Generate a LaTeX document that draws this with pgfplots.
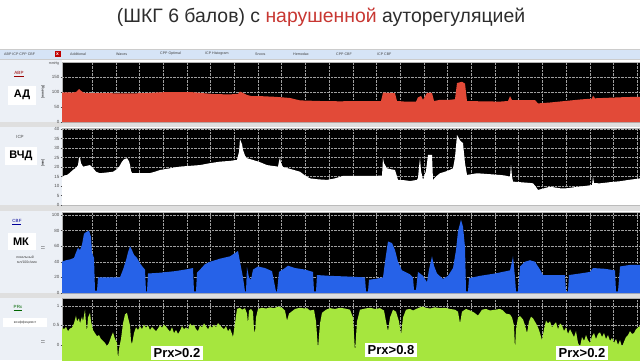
\documentclass[border=0pt]{standalone}
\usepackage{pgfplots}
\pgfplotsset{compat=1.18}
\usepackage{fontspec}
\setmainfont{Liberation Sans}
\definecolor{abpred}{RGB}{226,74,56}
\definecolor{cbfblue}{RGB}{38,98,232}
\definecolor{prxgreen}{RGB}{166,230,62}
\definecolor{tabblue}{RGB}{214,228,246}
\definecolor{panelbg}{RGB}{236,240,246}
\definecolor{titlered}{RGB}{200,55,50}
\definecolor{titlegray}{RGB}{45,45,45}
\pgfplotsset{panel/.style={scale only axis, width=578pt, anchor=south west,
  xmin=62, xmax=640,
  axis background/.style={fill=black},
  xtick={92,115.7,139.4,163.1,186.8,210.5,234.2,257.9,281.6,305.3,329,352.7,376.4,400.1,423.8,447.5,471.2,494.9,518.6,542.3,566,589.7,613.4,637.1},
  xticklabels={}, xtick style={draw=none},
  grid=major, grid style={densely dotted, gray!75, line width=0.35pt},
  axis line style={gray!60, line width=0.4pt},
  ytick style={gray!60!black, line width=0.3pt}, major tick length=1.5pt, tick align=outside,
  yticklabel style={font=\fontsize{4.5}{5}\selectfont, text=gray!60!black, inner sep=1pt},
  /pgf/number format/assume math mode=true}}
\begin{document}
\begin{tikzpicture}[x=1pt,y=1pt]
\path[use as bounding box] (0,0) rectangle (640,360);
\clip (0,0) rectangle (640,360);
\fill[white] (0,0) rectangle (640,360);
% title
\node[font=\fontsize{19.4}{23}\selectfont, text=titlegray] at (321,343) {(ШКГ 6 балов) с \textcolor{titlered}{нарушенной} ауторегуляцией};
% left panel and tab bar
\fill[panelbg] (0,0) rectangle (62,301);
\fill[tabblue] (0,301) rectangle (640,311);
\draw[gray!40, line width=0.4pt] (0,301) -- (640,301);
\draw[gray!40, line width=0.4pt] (0,311) -- (640,311);
\fill[red!75!black] (54.5,303) rectangle (60.5,309);
\node[text=white, font=\fontsize{5}{5}\selectfont\bfseries, inner sep=0pt] at (57.5,306) {x};
\begin{scope}[font=\fontsize{3.6}{4}\selectfont, text=gray!50!black, inner sep=0pt, anchor=west]
\node[anchor=west] at (4,306) {ABP ICP CPP CBF};
\node[anchor=west] at (70,306) {Additional};
\node[anchor=west] at (116,306) {Waves};
\node[anchor=west] at (160,306) {CPP Optimal};
\node[anchor=west] at (205,306) {ICP Histogram};
\node[anchor=west] at (255,306) {Snoos};
\node[anchor=west] at (293,306) {Hemodax};
\node[anchor=west] at (336,306) {CPP CBF};
\node[anchor=west] at (377,306) {ICP CBF};
\end{scope}
% separators
\fill[gray!25] (0,233) rectangle (640,238);
\fill[gray!25] (0,155) rectangle (640,149);
\fill[gray!25] (0,62) rectangle (640,67);
% left labels
\fill[white] (8,255) rectangle (36,274);
\fill[white] (5,195) rectangle (37,213);
\fill[white] (8,110) rectangle (36,127);
\fill[white] (3,33) rectangle (47,42);
\begin{scope}[font=\fontsize{4.5}{5}\selectfont, inner sep=0pt]
\node[text=red!60!black] at (19,286) {\underline{ABP}};
\node[text=gray!60!black] at (20,223) {ICP};
\node[text=blue!60!black] at (17,138) {\underline{CBF}};
\node[text=green!40!black] at (18,52) {\underline{PRx}};
\node[font=\fontsize{3.5}{4}\selectfont, text=gray!50!black] at (25,103) {локальный};
\node[font=\fontsize{3.5}{4}\selectfont, text=gray!50!black] at (27,98) {мл/100г/мин};
\node[font=\fontsize{3.5}{4}\selectfont, text=gray!50!black] at (25,37.5) {коэффициент};
\node[rotate=90, font=\fontsize{3.5}{4}\selectfont] at (43,268) {[mmHg]};
\node[rotate=90, font=\fontsize{3.5}{4}\selectfont] at (43,197) {[mm]};
\node[rotate=90, font=\fontsize{3.5}{4}\selectfont] at (43,112) {[ ]};
\node[rotate=90, font=\fontsize{3.5}{4}\selectfont] at (43,18) {[ ]};
\node[font=\fontsize{3.5}{4}\selectfont, text=gray!50!black] at (54,296) {mmHg};
\end{scope}
\node[font=\bfseries\fontsize{11}{12}\selectfont] at (22,265) {АД};
\node[font=\bfseries\fontsize{11}{12}\selectfont] at (21,204) {ВЧД};
\node[font=\bfseries\fontsize{11}{12}\selectfont] at (21,118) {МК};
% ABP
\begin{axis}[panel, at={(62pt,238pt)}, height=60pt, ymin=0, ymax=200, ytick={0,50,100,150}]
\addplot[fill=abpred, draw=none] coordinates {(62,0) (62,98) (66,99) (72,98) (76,100) (79,110) (81,104) (84,97) (95,96) (110,96) (125,95) (140,96) (150,97) (160,99) (175,100) (190,100) (200,97) (215,93) (230,92) (238,94) (240,101) (243,97) (247,90) (252,86) (262,86) (275,84) (283,82) (290,80) (300,72) (320,70) (340,69) (360,70) (370,70) (381,70) (383,98) (390,97) (395,96) (397,70) (405,68) (416,68) (418,82) (421,87) (423,74) (427,97) (432,97) (434,70) (440,74) (450,74) (455,76) (457,130) (462,134) (465,128) (467,70) (480,69) (500,68) (508,70) (510,86) (512,73) (525,73) (535,73) (538,62) (550,65) (565,70) (580,75) (592,78) (593,88) (595,79) (610,81) (625,83) (640,84) (640,0)};
\end{axis}
% ICP
\begin{axis}[panel, at={(62pt,155pt)}, height=77pt, ymin=0, ymax=40.5, ytick={0,5,...,40}]
\addplot[fill=white, draw=none] coordinates {(62,0) (62,14.4) (64,15.5) (67,15.8) (70,17) (73,18.5) (76,19.5) (78,21) (79,24.6) (80,25) (81,22) (83,20.2) (86,20.5) (90,21) (93,19.5) (96,17.5) (100,16.7) (105,17) (110,17.3) (113,17.5) (116,18.5) (119,20) (122,22.8) (124,24) (127,24.6) (129,23) (130,21) (131,18) (132,16.8) (140,16.8) (150,16.8) (155,17.5) (160,18.4) (170,19.3) (180,20.2) (190,20.6) (200,21) (210,22) (220,22.8) (230,23.2) (237,23.7) (239,28) (240,34.6) (242,32) (243,29) (245,26) (247,24.6) (253,23.7) (260,22.5) (267,21) (272,20.6) (278,20.2) (279,23) (280,25) (281,22) (283,20) (290,19) (300,17.5) (305,15.5) (310,14) (318,13.5) (327,13.2) (335,14) (343,15.3) (355,15.3) (367,15.3) (375,15.3) (382,15.5) (383,24.6) (384,22) (387,19.3) (391,18.8) (395,18.4) (397,15) (398,13.2) (405,13) (410,12.6) (417,13.2) (418,14.2) (419,20) (420,24.6) (421,18) (423,13.2) (426,18) (428,26.3) (432,26.3) (433,13.2) (436,15) (440,16.7) (445,17.5) (450,18.5) (453,19.3) (455,25) (457,36.8) (459,35) (460,34) (462,33) (463,32.5) (465,22) (467,15.8) (477,16.7) (490,16.2) (500,15.8) (505,15.5) (510,14.9) (511,21) (512,15) (513,12.3) (520,12) (530,11.6) (533,11.4) (536,9.5) (538,7.9) (542,8.5) (550,9.6) (555,9.2) (560,8.8) (567,8.8) (575,9.4) (585,10) (592,10.5) (593,14.9) (594,11.5) (600,11.4) (610,12) (620,12.5) (630,13.3) (640,14) (640,0)};
\end{axis}
% CBF
\begin{axis}[panel, at={(62pt,67pt)}, height=81pt, ymin=0, ymax=103.8, ytick={0,20,...,100}]
\addplot[fill=cbfblue, draw=none] coordinates {(62,0) (62,40) (66,42) (70,43) (74,45) (76,52) (78,58) (80,55) (82,62) (84,76) (86,78) (89,80) (91,72) (92,52) (94,45) (95,3) (97,3) (98,20) (110,20) (120,20) (123,30) (126,42) (128,52) (130,60) (132,55) (134,49) (137,45) (140,38) (143,33) (145,30) (146,2) (147,2) (148,25) (160,26) (175,28) (185,30) (193,32) (194,2) (196,2) (197,26) (200,30) (205,37) (210,40) (220,44) (230,47) (236,52) (238,54) (240,40) (243,20) (245,2) (246,2) (247,33) (249,20) (251,17) (253,30) (258,34) (265,32) (272,28) (276,2) (277,2) (279,27) (285,32) (288,35) (295,32) (305,30) (313,27) (314,2) (316,2) (317,23) (330,22) (350,21) (365,20) (366,2) (368,2) (369,17) (375,18) (383,20) (385,40) (388,66) (392,64) (395,55) (398,40) (402,29) (410,24) (413,20) (414,4) (416,4) (418,27) (423,22) (427,14) (429,30) (432,47) (434,35) (437,25) (443,18) (448,22) (453,32) (456,55) (458,79) (461,94) (463,85) (465,59) (466,2) (468,2) (469,19) (480,22) (495,25) (510,29) (512,40) (513,47) (515,20) (516,2) (518,2) (520,34) (525,40) (530,42) (535,40) (540,30) (543,23) (555,23) (565,23) (566,2) (568,2) (569,23) (580,25) (590,27) (593,32) (605,31) (615,29) (616,2) (618,2) (620,34) (630,36) (640,36) (640,0)};
\end{axis}
% PRx
\begin{axis}[panel, at={(62pt,-20pt)}, height=82pt, ymin=-0.9, ymax=1.2, ytick={0,0.5,1}]
\addplot[fill=prxgreen, draw=none] coordinates {(62,-0.9) (62,0.45) (64,0.40) (66,0.46) (68,0.35) (70,0.42) (72,0.44) (74,0.55) (76,0.75) (77,0.60) (79,0.68) (80,0.55) (82,0.72) (83,0.60) (85,0.90) (86,0.55) (87,0.35) (88,0.70) (90,0.82) (91,0.60) (93,0.38) (95,0.30) (97,0.22) (99,0.25) (101,0.15) (103,0.10) (105,0.05) (107,-0.03) (109,0.05) (111,0.20) (113,0.32) (115,0.15) (117,0.05) (118,-0.35) (119,-0.10) (121,0.15) (123,0.55) (125,0.78) (127,0.82) (128,0.70) (130,0.50) (131,0.10) (132,0.02) (134,0.30) (136,0.45) (138,0.38) (140,0.48) (142,0.40) (144,0.52) (146,0.44) (148,0.50) (150,0.38) (152,0.46) (154,0.40) (156,0.35) (158,0.42) (160,0.50) (162,0.44) (164,0.52) (166,0.47) (168,0.40) (170,0.34) (172,0.45) (174,0.30) (176,0.38) (178,0.28) (180,0.36) (182,0.48) (184,0.40) (186,0.45) (188,0.38) (190,0.55) (192,0.48) (194,0.52) (196,0.40) (198,0.35) (200,0.50) (202,0.45) (204,0.55) (206,0.48) (208,0.40) (210,0.50) (212,0.44) (214,0.52) (216,0.45) (218,0.56) (220,0.50) (222,0.45) (224,0.40) (226,0.48) (228,0.35) (230,0.42) (232,0.28) (233,0.20) (235,0.55) (237,0.92) (240,0.95) (242,0.90) (245,0.94) (247,0.80) (248,0.55) (249,0.88) (251,0.92) (253,0.85) (254,0.40) (255,0.30) (256,0.70) (258,0.92) (262,0.95) (266,0.93) (270,0.96) (274,0.94) (278,0.98) (282,0.95) (285,0.88) (287,0.62) (289,0.80) (292,0.86) (295,0.92) (300,0.95) (305,0.93) (307,0.94) (310,0.88) (314,0.90) (316,0.60) (318,-0.10) (320,0.55) (322,0.82) (326,0.90) (330,0.94) (335,0.92) (340,0.95) (345,0.93) (350,0.90) (353,0.70) (355,-0.18) (357,0.60) (360,0.90) (365,0.93) (370,0.95) (375,0.92) (380,0.94) (384,0.88) (386,0.60) (388,0.35) (390,0.70) (393,0.90) (396,0.85) (399,0.60) (401,0.25) (403,0.70) (406,0.90) (410,0.92) (413,0.88) (418,0.94) (422,0.98) (426,0.95) (430,0.93) (435,0.96) (440,0.94) (445,0.95) (450,0.92) (455,0.90) (458,0.85) (460,0.55) (462,0.85) (466,0.92) (470,0.88) (474,0.83) (478,0.75) (482,0.90) (486,0.92) (490,0.88) (495,0.90) (500,0.92) (503,0.88) (506,0.80) (510,0.78) (512,0.70) (514,0.50) (515,-0.12) (516,0.40) (518,0.70) (520,0.74) (523,0.65) (525,0.50) (527,0.30) (529,0.60) (531,0.72) (533,0.68) (536,0.55) (538,0.45) (540,0.30) (542,0.12) (544,0.40) (546,0.62) (548,0.55) (550,0.60) (552,0.45) (554,0.52) (556,0.58) (558,0.40) (560,0.55) (562,0.50) (564,0.35) (566,0.45) (568,0.28) (570,0.40) (572,0.30) (574,0.20) (576,0.35) (578,0.05) (580,-0.05) (582,0.20) (584,0.10) (586,0.25) (588,0.12) (590,0.05) (592,0.22) (594,0.30) (596,0.15) (598,0.28) (600,0.32) (602,0.20) (604,0.30) (606,0.15) (608,0.25) (610,0.10) (612,0.18) (614,0.05) (616,0.15) (618,0.00) (620,0.12) (622,-0.05) (624,0.08) (626,0.20) (628,0.25) (630,0.35) (632,0.28) (634,0.30) (636,0.40) (638,0.45) (640,0.48) (640,-0.9)};
\end{axis}
% bottom labels
\begin{scope}[font=\bfseries\fontsize{13}{13}\selectfont]
\node[fill=white, anchor=base west, inner sep=2.5pt] at (151,2.5) {Prx>0.2};
\node[fill=white, anchor=base west, inner sep=2.5pt] at (365,5.5) {Prx>0.8};
\node[fill=white, anchor=base west, inner sep=2.5pt] at (556,2.5) {Prx>0.2};
\end{scope}
\end{tikzpicture}
\end{document}
